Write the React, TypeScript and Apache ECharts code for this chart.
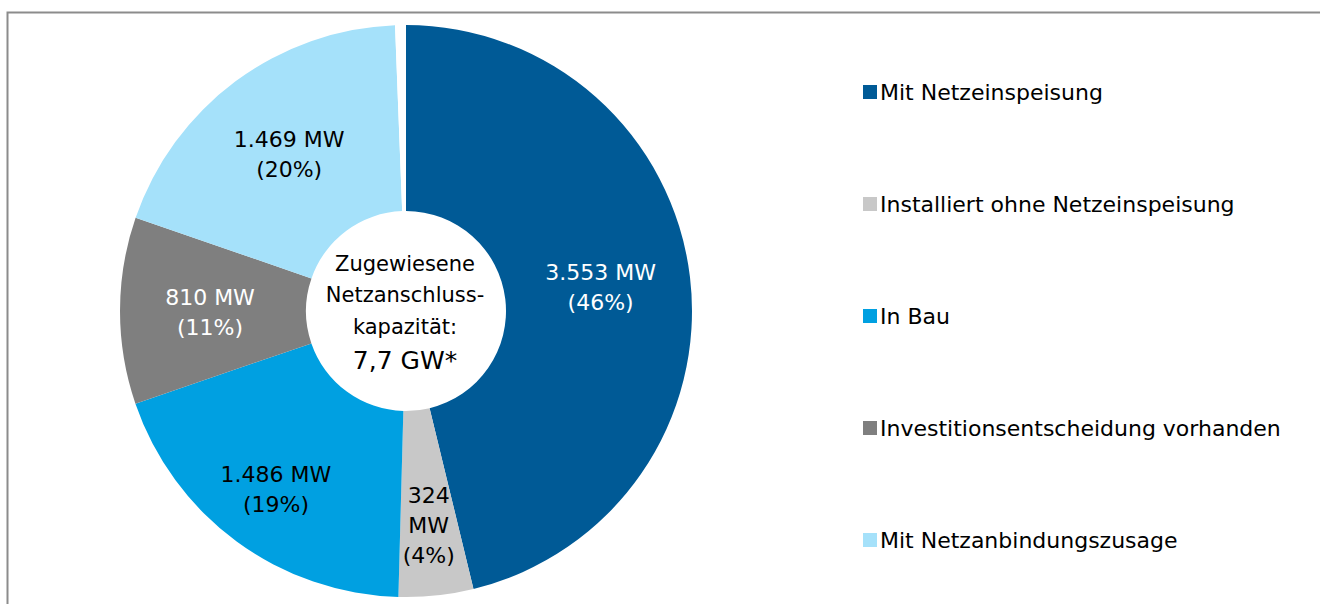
import React, { useEffect, useRef } from "react";
import * as echarts from "echarts";

const categories = [
  "Mit Netzeinspeisung",
  "Installiert ohne Netzeinspeisung",
  "In Bau",
  "Investitionsentscheidung vorhanden",
  "Mit Netzanbindungszusage",
];
const values = [3553, 324, 1486, 810, 1469];
const percents = ["46%", "4%", "19%", "11%", "20%"];
const valueLabels = ["3.553 MW", "324\nMW", "1.486 MW", "810 MW", "1.469 MW"];
const gapValue = 47;
const colors = ["#005A96", "#C8C8C8", "#00A0E1", "#7F7F7F", "#A5E1FA"];
const labelColors = ["#ffffff", "#000000", "#000000", "#ffffff", "#000000"];
const labelOffsets = [[0, 0], [2, 20], [-14, 21], [0, 2], [0, 1]];
const centerLines = ["Zugewiesene", "Netzanschluss-", "kapazität:"];
const centerTotal = "7,7 GW*";

const FONT = "'DejaVu Sans', sans-serif";

export default function App() {
  const ref = useRef<HTMLDivElement>(null);
  useEffect(() => {
    if (!ref.current) return;
    const chart = echarts.init(ref.current, undefined, { renderer: "svg" });
    const data: any[] = categories.map((name, i) => ({
      name,
      value: values[i],
      itemStyle: { color: colors[i] },
      label: {
        color: labelColors[i],
        offset: labelOffsets[i],
        formatter: `${valueLabels[i]}\n(${percents[i]})`,
      },
    }));
    data.push({
      name: "gap",
      value: gapValue,
      itemStyle: { color: "#ffffff" },
      label: { show: false },
      emphasis: { disabled: true },
    });
    chart.setOption({
      animation: false,
      legend: {
        data: categories,
        orient: "vertical",
        left: 858,
        top: 76,
        itemWidth: 14,
        itemHeight: 14,
        itemGap: 90,
        icon: "rect",
        textStyle: { fontFamily: FONT, fontSize: 22, color: "#000", padding: [0, 0, 0, -2] },
      },
      graphic: [
        {
          type: "rect",
          shape: { x: 7.5, y: 12.5, width: 1400, height: 700 },
          style: { fill: "none", stroke: "#8c8c8c", lineWidth: 2 },
          silent: true,
        },
        {
          type: "text",
          x: 405,
          y: 313,
          style: {
            text: centerLines.join("\n") + "\n{big|" + centerTotal + "}",
            fontFamily: FONT,
            fontSize: 21,
            lineHeight: 31.5,
            fill: "#000",
            align: "center",
            verticalAlign: "middle",
            rich: { big: { fontFamily: FONT, fontSize: 25, lineHeight: 36, fill: "#000" } },
          } as any,
          silent: true,
        },
      ],
      series: [
        {
          type: "pie",
          center: [406, 311],
          radius: [100, 286],
          startAngle: 90,
          clockwise: true,
          avoidLabelOverlap: false,
          label: {
            show: true,
            position: "inside",
            fontFamily: FONT,
            fontSize: 22,
            lineHeight: 30,
            align: "center",
          },
          labelLine: { show: false },
          itemStyle: { borderWidth: 0 },
          data,
        },
      ],
    });
    return () => chart.dispose();
  }, []);
  return (
    <div
      ref={ref}
      style={{ position: "fixed", left: 0, top: 0, width: 1320, height: 604, background: "#fff" }}
    />
  );
}
